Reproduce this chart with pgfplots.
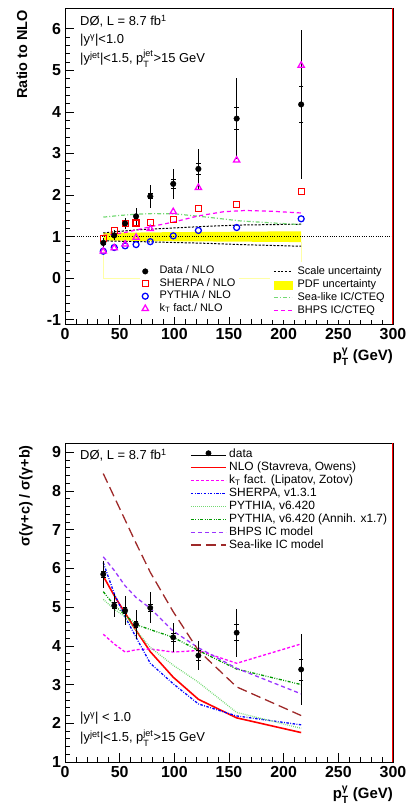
\documentclass[border=0pt]{standalone}
\usepackage{pgfplots}
\pgfplotsset{compat=1.18}
\usepackage{pgfplotstable}
\usepackage{amsmath}
\usepackage{fontspec}
\setmainfont{Liberation Sans}
\definecolor{rred}{rgb}{1,0,0}
\definecolor{rblue}{rgb}{0,0,1}
\definecolor{kmag}{rgb}{1,0,1}
\definecolor{lgreen}{rgb}{0.45,0.85,0.45}
\definecolor{dgreen}{rgb}{0,0.6,0}
\definecolor{bhps}{rgb}{0.6,0.2,1}
\definecolor{brownred}{rgb}{0.62,0.16,0.16}
\definecolor{pdfyellow}{rgb}{1,1,0}

% top panel data: x, y, total error, stat error
\pgfplotstableread{
x y e s
35 0.85 0.11 0.03
45 1.03 0.12 0.03
55 1.32 0.13 0.04
65 1.49 0.20 0.05
78 1.97 0.27 0.06
99 2.27 0.36 0.10
122 2.63 0.48 0.14
157 3.84 0.98 0.27
216 4.18 1.80 0.44
}\topdata
\pgfplotstableread{
x y
35 0.95
45 1.15
55 1.31
65 1.33
78 1.35
99 1.42
122 1.68
157 1.77
216 2.08
}\topsherpa
\pgfplotstableread{
x y
35 0.65
45 0.74
55 0.78
65 0.81
78 0.88
99 1.02
122 1.15
157 1.22
216 1.43
}\toppythia
\pgfplotstableread{
x y
35 0.65
45 0.73
55 0.82
65 0.98
78 1.19
99 1.60
122 2.18
157 2.84
216 5.12
}\topkt

% bottom panel data
\pgfplotstableread{
x y e s
35 5.85 0.35 0.08
45 5.04 0.30 0.07
55 4.91 0.37 0.08
65 4.55 0.37 0.08
78 4.98 0.40 0.10
99 4.22 0.38 0.10
122 3.75 0.38 0.12
157 4.34 0.62 0.21
216 3.39 0.92 0.27
}\botdata
\pgfplotstableread{
x nlo kt sherpa pythia annih bhps sea
35 5.80 4.30 6.15 5.20 5.40 6.30 8.45
45 5.30 4.05 5.35 4.95 5.05 5.95 7.85
55 4.85 3.84 4.75 4.75 4.80 5.55 7.25
65 4.40 3.90 4.22 4.40 4.55 5.25 6.65
78 3.85 3.92 3.55 3.96 4.42 4.97 5.90
99 3.19 3.84 3.02 3.50 4.22 4.38 4.88
122 2.62 3.88 2.50 3.06 3.88 3.95 3.88
157 2.14 3.55 2.19 2.28 3.40 3.42 2.94
216 1.76 4.05 1.96 1.87 3.00 2.76 2.20
}\botcurves

\pgfplotsset{
  rootstyle/.style={
    scale only axis, width=328bp,
    xmin=0, xmax=300, xtick={0,50,...,300}, minor x tick num=4,
    tick pos=left, tick align=inside,
    major tick length=9bp, minor tick length=4.5bp,
    axis line style={line width=0.8pt},
    every tick/.style={line width=0.7pt, black},
    ticklabel style={font=\fontsize{16}{16}\selectfont\bfseries},
    /pgf/number format/assume math mode=true,
    xticklabel style={yshift=-0.5bp},
    yticklabel style={xshift=-0.5bp},
  },
}
% explicit legend line sample: #1 = draw options, #2 = length
\newcommand{\legline}[2]{\addlegendimage{legend image code/.code={\draw[#1] (0bp,0bp) -- (#2,0bp);}}}
\newcommand{\legmark}[1]{\addlegendimage{legend image code/.code={#1}}}

\begin{document}
\begin{tikzpicture}
\useasboundingbox (0bp,0bp) rectangle (406bp,805bp);

% ================= TOP PANEL =================
\begin{axis}[rootstyle, at={(65bp,481bp)}, anchor=south west, height=316bp,
  ymin=-1.1, ymax=6.5, ytick={-1,0,...,6}, minor y tick num=4,
  legend style={at={(rel axis cs:0.2285,0.193)}, anchor=north west, draw=none, fill=white,
    font=\fontsize{11}{12}\selectfont, row sep=0pt, column sep=10bp, inner sep=2bp,
    nodes={inner sep=1.2bp, text height=7.4bp, text depth=2.6bp}},
  legend cell align=left]
\addplot[forget plot, pdfyellow!35, line width=0.4pt] coordinates {(35,0.9) (35,0) (216,0) (216,0.87)};
\addplot[forget plot, fill=pdfyellow, draw=none] coordinates {(35,0.91) (100,0.89) (160,0.88) (216,0.87) (216,1.13) (160,1.12) (100,1.11) (35,1.09)};
\addplot[forget plot, black, line width=0.6pt, dash pattern=on 1bp off 1.3bp] coordinates {(0,1) (300,1)};
\addplot[forget plot, black, line width=1pt, dash pattern=on 2.2bp off 1.5bp] coordinates {(35,1.09) (50,1.13) (70,1.17) (100,1.21) (130,1.25) (160,1.28) (216,1.30)};
\addplot[forget plot, black, line width=1pt, dash pattern=on 2.2bp off 1.5bp] coordinates {(35,0.90) (50,0.89) (70,0.88) (100,0.86) (130,0.84) (160,0.81) (216,0.77)};
\addplot[forget plot, lgreen, line width=1.2pt, dash pattern=on 4bp off 2bp on 1bp off 2bp] coordinates {(35,1.47) (50,1.51) (65,1.54) (80,1.555) (100,1.55) (130,1.47) (160,1.38) (190,1.33) (216,1.29)};
\addplot[forget plot, kmag, line width=1.2pt, dash pattern=on 4bp off 3bp] coordinates {(35,1.03) (45,1.06) (55,1.10) (65,1.16) (78,1.24) (99,1.35) (122,1.50) (145,1.60) (165,1.63) (190,1.61) (216,1.57)};
\addplot[forget plot, only marks, draw=rblue, mark=o, mark size=3bp, mark options={line width=1.25pt, draw=rblue}] table[x=x,y=y] {\toppythia};
\addplot[forget plot, only marks, draw=rred, mark=square, mark size=3bp, mark options={line width=1.25pt, draw=rred}] table[x=x,y=y] {\topsherpa};
\addplot[forget plot, only marks, draw=kmag, mark=triangle, mark size=3.6bp, mark options={line width=1.25pt, draw=kmag}] table[x=x,y=y] {\topkt};
\addplot[forget plot, only marks, black, mark=*, mark size=2.8bp,
  error bars/.cd, y dir=both, y explicit, error mark=none, error bar style={line width=0.9pt}]
  table[x=x,y=y,y error=e] {\topdata};
\addplot[forget plot, only marks, black, mark=-, mark size=2.3bp, mark options={line width=0.8pt}] table[x=x,y expr=\thisrow{y}+\thisrow{s}] {\topdata};
\addplot[forget plot, only marks, black, mark=-, mark size=2.3bp, mark options={line width=0.8pt}] table[x=x,y expr=\thisrow{y}-\thisrow{s}] {\topdata};
\addlegendimage{only marks, black, mark=*, mark size=2.8bp}
\addlegendentry{Data / NLO}
\addlegendimage{only marks, draw=rred, mark=square, mark size=3bp, mark options={line width=1.25pt, draw=rred}}
\addlegendentry{SHERPA / NLO}
\addlegendimage{only marks, draw=rblue, mark=o, mark size=3bp, mark options={line width=1.25pt, draw=rblue}}
\addlegendentry{PYTHIA / NLO}
\addlegendimage{only marks, draw=kmag, mark=triangle, mark size=3.6bp, mark options={line width=1.25pt, draw=kmag}}
\addlegendentry{k$_{\text{T}}$ fact./ NLO}
\draw[rred, line width=1.2pt] (rel axis cs:1,0) -- (rel axis cs:1,1);
\end{axis}

\begin{axis}[rootstyle, hide axis, at={(65bp,481bp)}, anchor=south west, height=316bp,
  ymin=-1.1, ymax=6.5,
  legend style={at={(rel axis cs:0.625,0.196)}, anchor=north west, draw=none, fill=white,
    font=\fontsize{11}{12}\selectfont, row sep=0pt, column sep=4bp, inner sep=3bp,
    nodes={inner sep=1.25bp, text height=7.5bp, text depth=3bp}},
  legend cell align=left]
\addplot[forget plot, draw=none] coordinates {(0,0)};
\legline{black, line width=1pt, dash pattern=on 2.2bp off 1.5bp}{18bp}
\addlegendentry{Scale uncertainty}
\legmark{\fill[pdfyellow] (0bp,-4bp) rectangle (18bp,4bp);}
\addlegendentry{PDF uncertainty}
\legline{lgreen, line width=1.2pt, dash pattern=on 4bp off 2bp on 1bp off 2bp}{18bp}
\addlegendentry{Sea-like IC/CTEQ}
\legline{kmag, line width=1.2pt, dash pattern=on 4bp off 3bp}{18bp}
\addlegendentry{BHPS IC/CTEQ}
\end{axis}

% top panel texts
\node[anchor=base west, inner sep=0pt, font=\fontsize{13}{13}\selectfont] at (80bp,779bp) {DØ, L = 8.7 fb$^{\text{1}}$};
\node[anchor=base west, inner sep=0pt, font=\fontsize{13}{13}\selectfont] at (80bp,761bp) {|y$^{\text{γ}}$|<1.0};
\node[anchor=base west, inner sep=0pt, font=\fontsize{13}{13}\selectfont] at (80bp,742bp) {|y$^{\text{jet}}$|<1.5, p$^{\text{jet}}_{\text{T}}$>15 GeV};
\node[rotate=90, anchor=east, inner sep=0pt, font=\fontsize{14.5}{14.5}\selectfont\bfseries] at (22bp,795bp) {Ratio to NLO};
\node[anchor=north east, inner sep=0pt, font=\fontsize{15}{15}\selectfont\bfseries] at (393bp,457bp) {p$^{\text{γ}}_{\text{T}}$ (GeV)};

% ================= BOTTOM PANEL =================
\begin{axis}[rootstyle, at={(65bp,43bp)}, anchor=south west, height=319bp,
  ymin=1, ymax=9.24, ytick={1,2,...,9}, minor y tick num=4,
  legend style={at={(rel axis cs:0.381,0.984)}, anchor=north west, draw=none, fill=none,
    font=\fontsize{12}{12}\selectfont, row sep=0pt, inner sep=0bp, column sep=2bp,
    nodes={inner sep=0.45bp, text height=9bp, text depth=3bp}},
  legend cell align=left]
\addplot[forget plot, draw=rred, line width=1.6pt] table[x=x,y=nlo] {\botcurves};
\addplot[forget plot, draw=kmag, line width=1.3pt, dash pattern=on 3bp off 2bp] table[x=x,y=kt] {\botcurves};
\addplot[forget plot, draw=rblue, line width=1.3pt, dash pattern=on 2.5bp off 1.5bp on 0.8bp off 1.5bp] table[x=x,y=sherpa] {\botcurves};
\addplot[forget plot, draw=lgreen, line width=1.3pt, dash pattern=on 0.8bp off 1.2bp] table[x=x,y=pythia] {\botcurves};
\addplot[forget plot, draw=dgreen, line width=1.3pt, dash pattern=on 3bp off 1.5bp on 0.8bp off 1.5bp on 0.8bp off 1.5bp] table[x=x,y=annih] {\botcurves};
\addplot[forget plot, draw=bhps, line width=1.3pt, dash pattern=on 4bp off 3bp] table[x=x,y=bhps] {\botcurves};
\addplot[forget plot, draw=brownred, line width=1.3pt, dash pattern=on 10bp off 5bp] table[x=x,y=sea] {\botcurves};
\addplot[forget plot, only marks, black, mark=*, mark size=2.7bp,
  error bars/.cd, y dir=both, y explicit, error mark=none, error bar style={line width=0.9pt}]
  table[x=x,y=y,y error=e] {\botdata};
\addplot[forget plot, only marks, black, mark=-, mark size=2.3bp, mark options={line width=0.8pt}] table[x=x,y expr=\thisrow{y}+\thisrow{s}] {\botdata};
\addplot[forget plot, only marks, black, mark=-, mark size=2.3bp, mark options={line width=0.8pt}] table[x=x,y expr=\thisrow{y}-\thisrow{s}] {\botdata};
\legmark{\fill[black] (17.5bp,1.5bp) circle (2.7bp); \path (0bp,0bp) -- (35bp,0bp);}
\addlegendentry{data}
\legline{rred, line width=1.6pt}{35bp}
\addlegendentry{NLO (Stavreva, Owens)}
\legline{kmag, line width=1.3pt, dash pattern=on 3bp off 2bp}{35bp}
\addlegendentry{k$_{\text{T}}$ fact. (Lipatov, Zotov)}
\legline{rblue, line width=1.3pt, dash pattern=on 2.5bp off 1.5bp on 0.8bp off 1.5bp}{35bp}
\addlegendentry{SHERPA, v1.3.1}
\legline{lgreen, line width=1.3pt, dash pattern=on 0.8bp off 1.2bp}{35bp}
\addlegendentry{PYTHIA, v6.420}
\legline{dgreen, line width=1.3pt, dash pattern=on 3bp off 1.5bp on 0.8bp off 1.5bp on 0.8bp off 1.5bp}{35bp}
\addlegendentry{PYTHIA, v6.420 (Annih. x1.7)}
\legline{bhps, line width=1.3pt, dash pattern=on 4bp off 3bp}{35bp}
\addlegendentry{BHPS IC model}
\legline{brownred, line width=1.3pt, dash pattern=on 10bp off 5bp}{35bp}
\addlegendentry{Sea-like IC model}
\draw[rred, line width=1.2pt] (rel axis cs:1,0) -- (rel axis cs:1,1);
\end{axis}

% bottom panel texts
\node[anchor=base west, inner sep=0pt, font=\fontsize{13}{13}\selectfont] at (80bp,345bp) {DØ, L = 8.7 fb$^{\text{1}}$};
\node[anchor=base west, inner sep=0pt, font=\fontsize{13}{13}\selectfont] at (80bp,83bp) {|y$^{\text{γ}}$| < 1.0};
\node[anchor=base west, inner sep=0pt, font=\fontsize{13}{13}\selectfont] at (80bp,63bp) {|y$^{\text{jet}}$|<1.5, p$^{\text{jet}}_{\text{T}}$>15 GeV};
\node[rotate=90, anchor=east, inner sep=0pt, font=\fontsize{14.5}{14.5}\selectfont\bfseries] at (26bp,360bp) {σ(γ+c) / σ(γ+b)};
\node[anchor=north east, inner sep=0pt, font=\fontsize{15}{15}\selectfont\bfseries] at (393bp,19bp) {p$^{\text{γ}}_{\text{T}}$ (GeV)};
\end{tikzpicture}
\end{document}
